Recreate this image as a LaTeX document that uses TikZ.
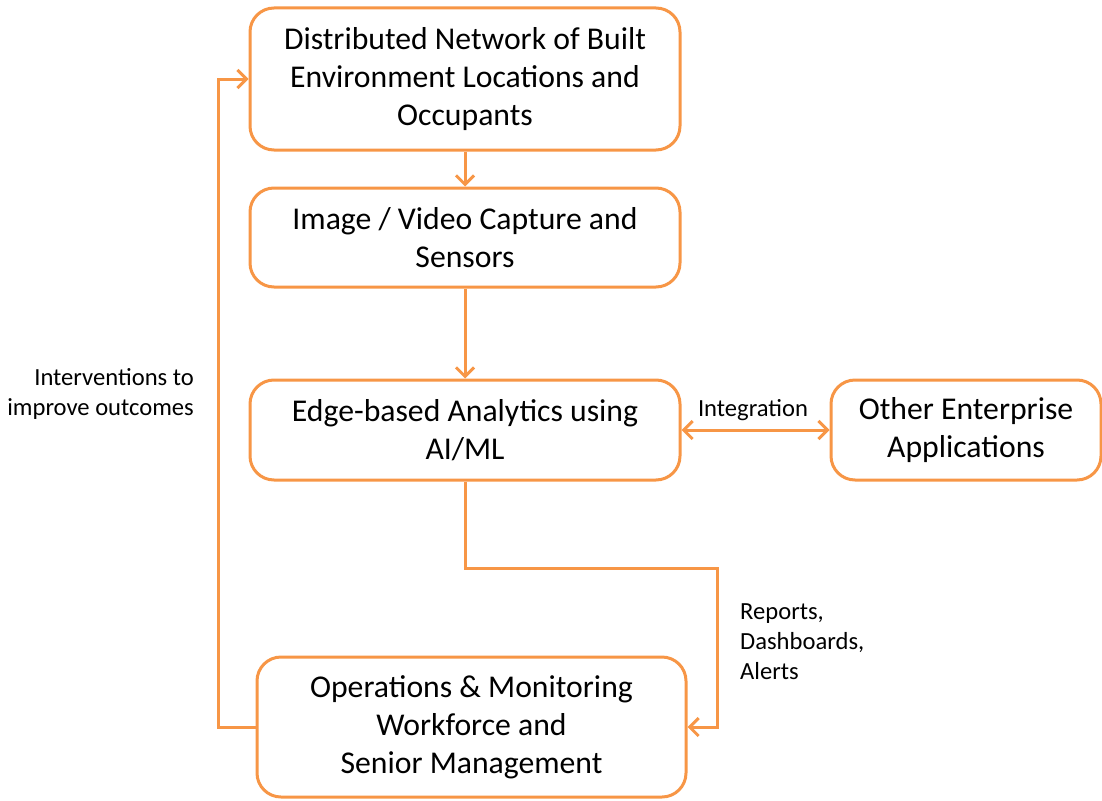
\documentclass[tikz,border=0pt]{standalone}
\usepackage{fontspec}
\setmainfont{Carlito}
\usetikzlibrary{arrows.meta}
\definecolor{boxorange}{HTML}{F79646}
\begin{document}
\begin{tikzpicture}[x=1pt,y=-1pt,
  box/.style={draw=boxorange, line width=3pt, rounded corners=24pt, fill=white,
    align=center, inner sep=0pt, font=\fontsize{31.7}{38}\selectfont, text=black},
  conn/.style={draw=boxorange, line width=3pt, -{Straight Barb[length=9pt,width=18pt,line width=3pt]}},
  lbl/.style={font=\fontsize{24.6}{30}\selectfont, text=black, inner sep=0pt}
]
\useasboundingbox (0,0) rectangle (1102,800);
\node[box, minimum width=430pt, minimum height=142pt] (b1) at (465,79) {Distributed Network of Built\\Environment Locations and\\Occupants};
\node[box, minimum width=430pt, minimum height=99pt] (b2) at (465,237.5) {Image / Video Capture and\\Sensors};
\node[box, minimum width=430pt, minimum height=100pt] (b3) at (465,430) {Edge-based Analytics using\\AI/ML};
\node[box, minimum width=270pt, minimum height=100pt] (b4) at (966,430) {Other Enterprise\\Applications};
\node[box, minimum width=429pt, minimum height=140pt] (b5) at (471.5,727) {Operations \& Monitoring\\Workforce and\\Senior Management};

\draw[conn] (b1.south) -- (b2.north);
\draw[conn] (b2.south) -- (b3.north);
\draw[conn, {Straight Barb[length=9pt,width=18pt,line width=3pt]}-{Straight Barb[length=9pt,width=18pt,line width=3pt]}] (b3.east) -- (b4.west);
\coordinate (c1) at (465,568);
\coordinate (c2) at (717,568);
\draw[conn] (b3.south) -- (c1) -- (c2) |- (b5.east);
\coordinate (c3) at (218,727);
\draw[conn] (b5.west) -- (c3) |- (b1.west);

\node[lbl, anchor=south] (lint) at (753,421) {Integration};
\node[lbl, align=right, anchor=east] (lleft) at (194,394) {Interventions to\\improve outcomes};
\node[lbl, align=left, anchor=west] (lrep) at (740,642) {Reports,\\Dashboards,\\Alerts};
\end{tikzpicture}
\end{document}
